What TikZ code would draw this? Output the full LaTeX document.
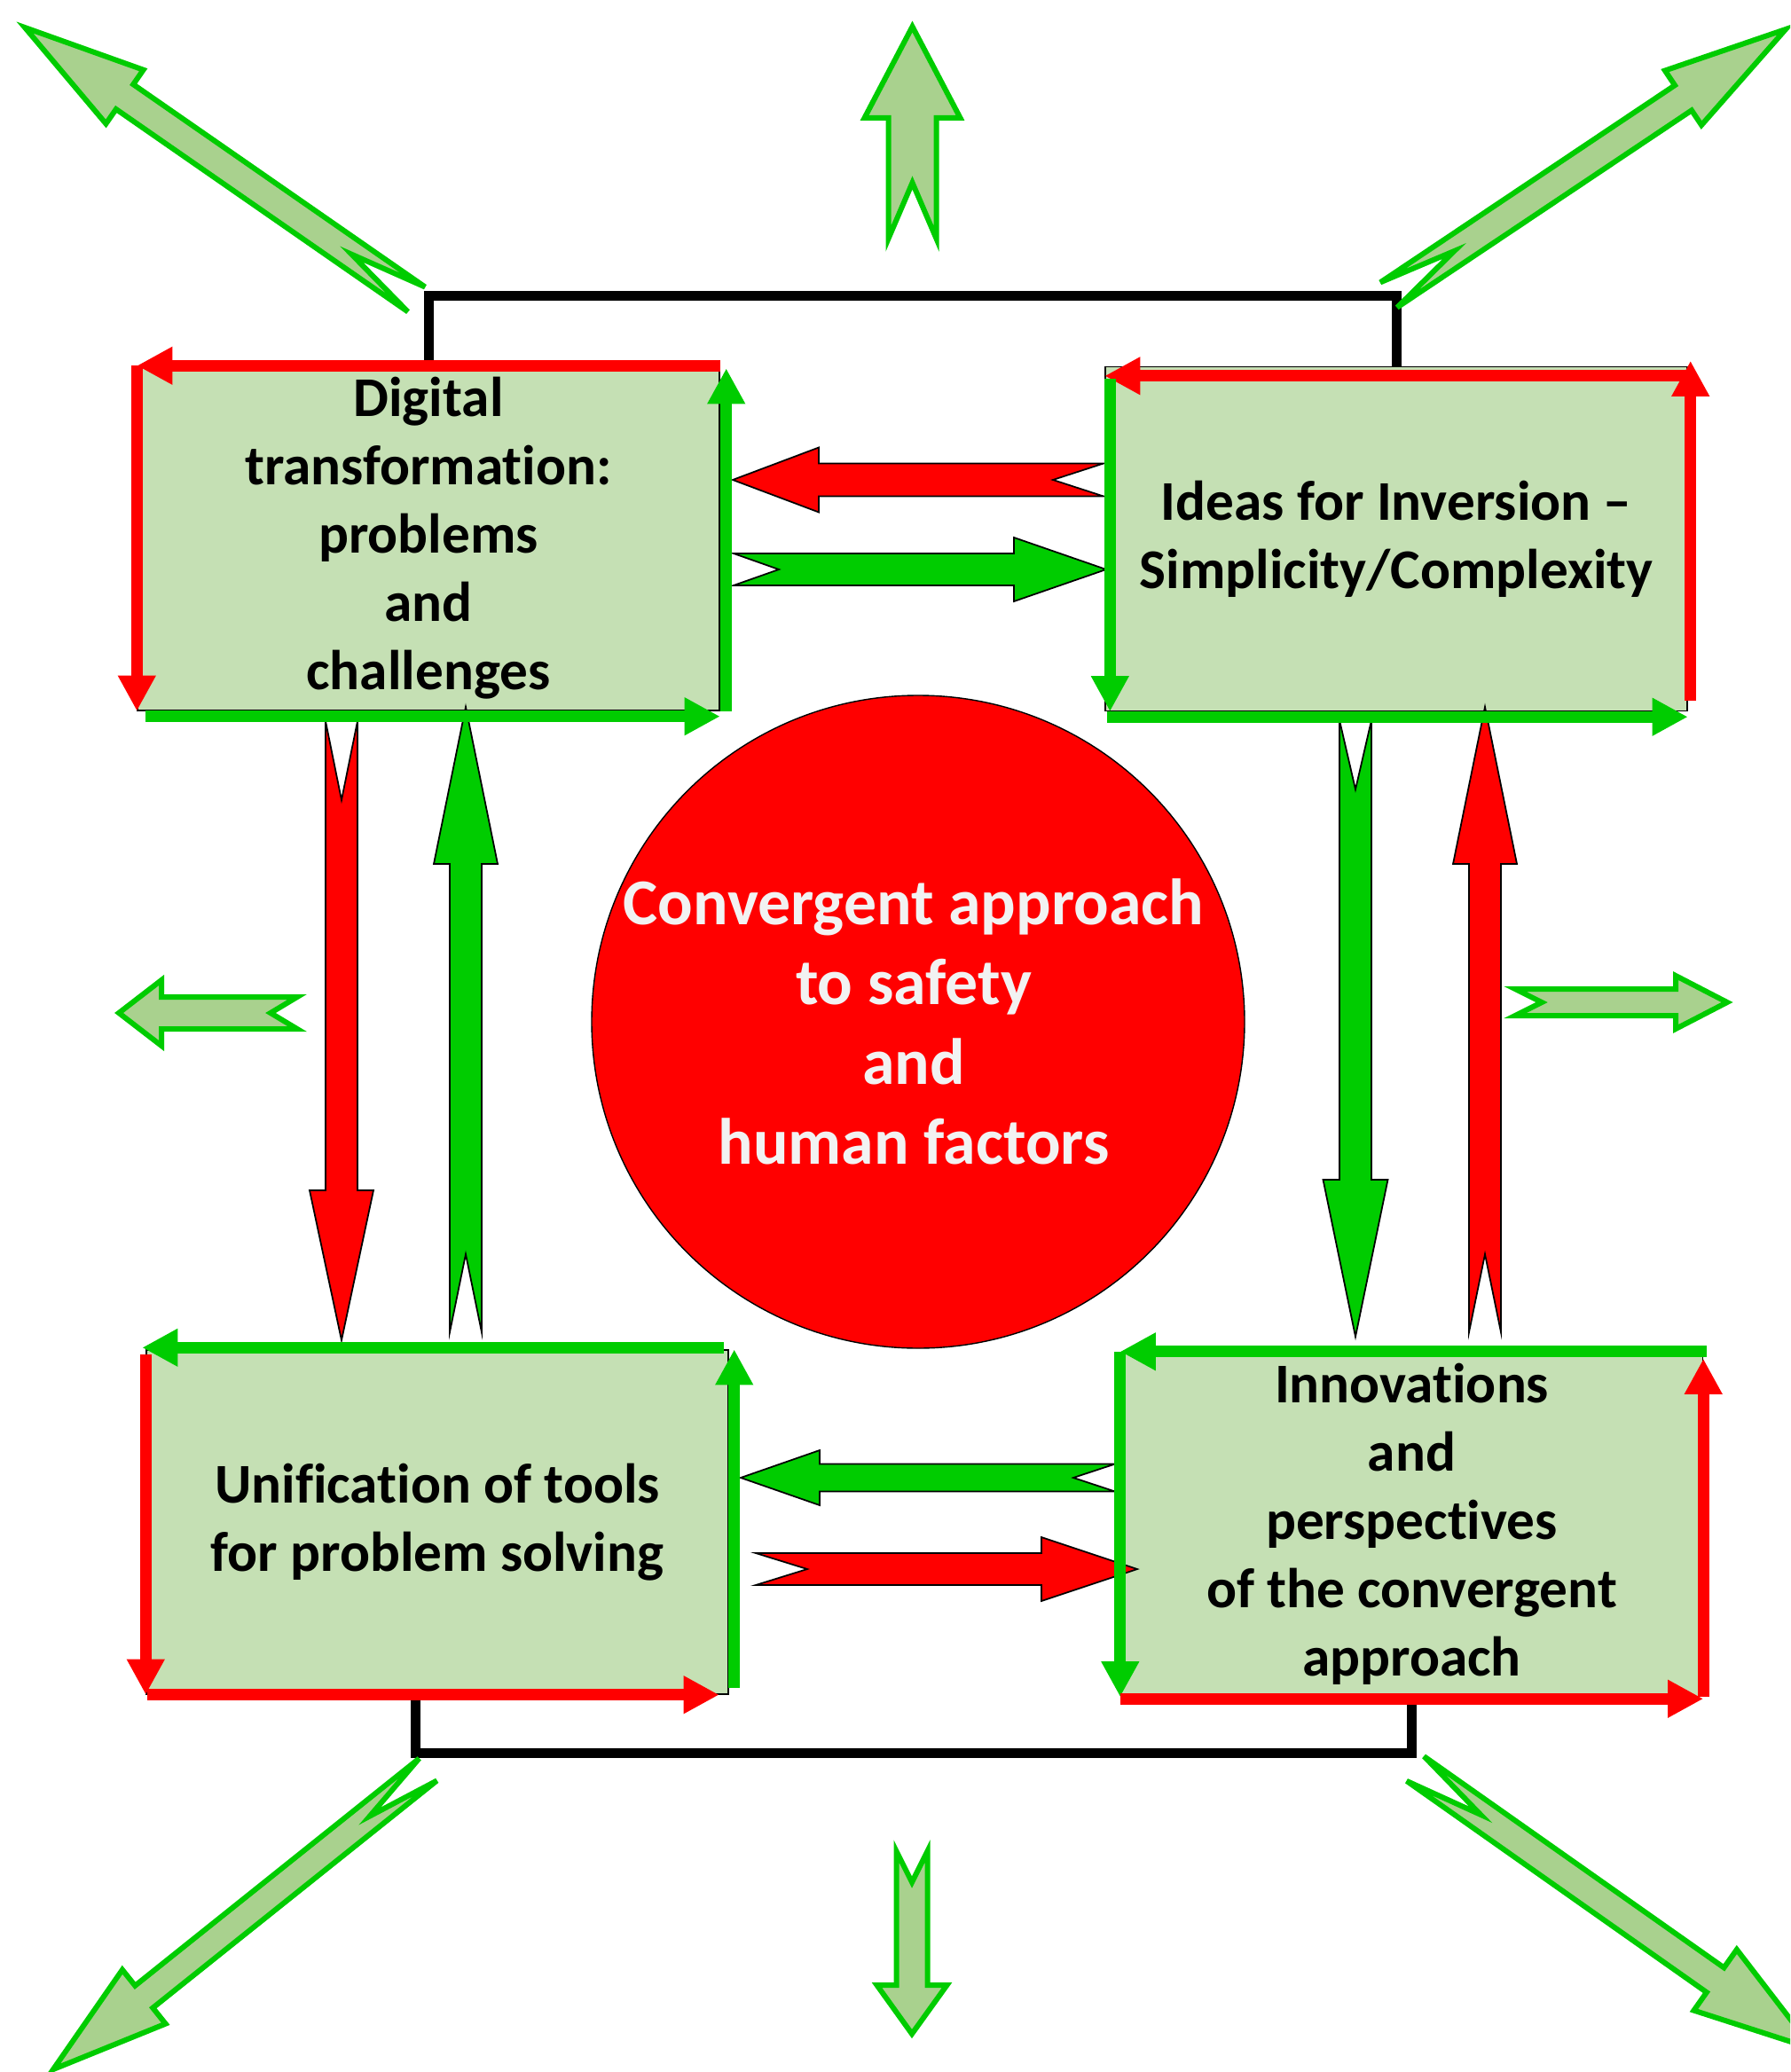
\documentclass[tikz,border=0pt]{standalone}
\usepackage{fontspec}
\setmainfont{Carlito}[Ligatures={TeX,NoCommon}]
\usepackage{tikz}
\usetikzlibrary{arrows.meta,calc}
\definecolor{sred}{HTML}{FF0000}
\definecolor{sgreen}{HTML}{00CC00}
\definecolor{boxgreen}{HTML}{C5E0B4}
\definecolor{outgreen}{HTML}{A9D18E}
\definecolor{ltext}{HTML}{F2F2F2}
\tikzstyle{notion} = [rectangle,
minimum width=6.56cm,
minimum height=3.88cm,
inner sep=0pt,
text centered, align=center,
draw=black,
fill=boxgreen,
font=\fontsize{18}{21.9}\selectfont\bfseries]
\tikzstyle{core} = [circle, minimum size=7.36cm, inner sep=0pt, draw=black, fill=sred]
\tikzstyle{coretext} = [text=ltext, align=center, font=\fontsize{21}{25.6}\selectfont\bfseries]
\tikzstyle{redside} = [draw=sred, line width=0.13cm, -{Triangle[length=0.4cm,width=0.4cm]}]
\tikzstyle{greenside} = [draw=sgreen, line width=0.13cm, -{Triangle[length=0.4cm,width=0.4cm]}]
\tikzstyle{bracket} = [draw=black, line width=0.11cm]
\tikzstyle{redflow} = [fill=sred, draw=black, line width=0.5pt]
\tikzstyle{greenflow} = [fill=sgreen, draw=black, line width=0.5pt]
\tikzstyle{outflow} = [fill=outgreen, draw=sgreen, line width=0.06cm]
% block arrow: [style]{tail}{tip}{half body}{half head}{head length}{notch}
\newcommand{\blockarrow}[7][]{%
  \filldraw[#1] ($(#2)!#4cm!90:(#3)$) -- ($(#3)!#6cm!(#2)!#4cm!90:(#3)$)
    -- ($(#3)!#6cm!(#2)!#5cm!90:(#3)$) -- (#3)
    -- ($(#3)!#6cm!(#2)!#5cm!-90:(#3)$) -- ($(#3)!#6cm!(#2)!#4cm!-90:(#3)$)
    -- ($(#2)!#4cm!-90:(#3)$) -- ($(#2)!#7cm!(#3)$) -- cycle;}

\begin{document}
\begin{tikzpicture}
				\useasboundingbox (0,0) rectangle (20.18,-23.36);
				\clip (0,0) rectangle (20.18,-23.36);

				\node[notion] (tl) at (4.83,-6.07) {Digital\\transformation:\\problems\\and\\challenges};
				\node[notion] (tr) at (15.74,-6.075) {Ideas for Inversion --\\Simplicity/Complexity};
				\node[notion] (bl) at (4.93,-17.16) {Unification of tools\\for problem solving};
				\node[notion] (br) at (15.915,-17.185) {Innovations\\and\\perspectives\\of the convergent\\approach};
				\node[core] (conv) at (10.35,-11.52) {};
				\node[coretext] (conv-t) at ([xshift=-0.05cm]conv.center) {Convergent approach\\to safety\\and\\human factors};

				\draw[bracket] (tl.north) -- ++(0,0.785) -| (tr.north);
				\draw[bracket] ([xshift=-0.25cm]bl.south) -- ++(0,-0.66) -| (br.south);

				\coordinate (tt-s) at (12.44,-5.41);  \coordinate (tt-e) at (8.26,-5.41);
				\coordinate (tb-s) at (8.27,-6.42);   \coordinate (tb-e) at (12.47,-6.42);
				\coordinate (bt-s) at (12.57,-16.66); \coordinate (bt-e) at (8.35,-16.66);
				\coordinate (bb-s) at (8.52,-17.69);  \coordinate (bb-e) at (12.82,-17.69);
				\coordinate (ld-s) at (3.85,-8.13);   \coordinate (ld-e) at (3.85,-15.11);
				\coordinate (lu-s) at (5.25,-15.02);  \coordinate (lu-e) at (5.25,-7.97);
				\coordinate (rd-s) at (15.28,-8.12);  \coordinate (rd-e) at (15.28,-15.07);
				\coordinate (ru-s) at (16.74,-15.02); \coordinate (ru-e) at (16.74,-7.97);

				\blockarrow[redflow]{tt-s}{tt-e}{.185}{.365}{.97}{.57}
				\blockarrow[greenflow]{tb-s}{tb-e}{.18}{.36}{1.04}{.51}
				\blockarrow[greenflow]{bt-s}{bt-e}{.155}{.31}{.89}{.47}
				\blockarrow[redflow]{bb-s}{bb-e}{.18}{.36}{1.08}{.58}
				\blockarrow[redflow]{ld-s}{ld-e}{.18}{.36}{1.69}{.89}
				\blockarrow[greenflow]{lu-s}{lu-e}{.18}{.36}{1.77}{.88}
				\blockarrow[greenflow]{rd-s}{rd-e}{.18}{.365}{1.77}{.78}
				\blockarrow[redflow]{ru-s}{ru-e}{.18}{.36}{1.77}{.88}

				\draw[redside] (tl.north east) -- (tl.north west);
				\draw[redside] (tl.north west) -- (tl.south west);
				\draw[greenside] ([shift={(0.1,-0.06)}]tl.south west) -- ([yshift=-0.06cm]tl.south east);
				\draw[greenside] ([xshift=0.07cm]tl.south east) -- ([shift={(0.07,-0.03)}]tl.north east);

				\draw[redside] ([shift={(0.03,-0.11)}]tr.north east) -- ([yshift=-0.11cm]tr.north west);
				\draw[greenside] ([shift={(0.06,-0.14)}]tr.north west) -- ([xshift=0.06cm]tr.south west);
				\draw[greenside] ([shift={(0.03,-0.06)}]tr.south west) -- ([yshift=-0.06cm]tr.south east);
				\draw[redside] ([shift={(0.03,0.12)}]tr.south east) -- ([shift={(0.03,0.06)}]tr.north east);

				\draw[greenside] ([shift={(-0.06,0.02)}]bl.north east) -- ([shift={(-0.04,0.02)}]bl.north west);
				\draw[redside] ([yshift=-0.06cm]bl.north west) -- (bl.south west);
				\draw[redside] ([xshift=0.02cm]bl.south west) -- ([xshift=-0.11cm]bl.south east);
				\draw[greenside] ([shift={(0.06,0.08)}]bl.south east) -- ([xshift=0.06cm]bl.north east);

				\draw[greenside] ([xshift=0.04cm]br.north east) -- (br.north west);
				\draw[greenside] (br.north west) -- (br.south west);
				\draw[redside] ([yshift=-0.02cm]br.south west) -- ([yshift=-0.02cm]br.south east);
				\draw[redside] (br.south east) -- ([yshift=-0.08cm]br.north east);

				\coordinate (nw-s) at (4.695,-3.375); \coordinate (nw-e) at (0.28,-0.31);
				\coordinate (n-s) at (10.285,-2.69);  \coordinate (n-e) at (10.285,-0.30);
				\coordinate (ne-s) at (15.655,-3.325); \coordinate (ne-e) at (20.13,-0.33);
				\coordinate (w-s) at (3.35,-11.42);   \coordinate (w-e) at (1.34,-11.42);
				\coordinate (e-s) at (17.08,-11.30);  \coordinate (e-e) at (19.47,-11.30);
				\coordinate (sw-s) at (4.825,-19.95); \coordinate (sw-e) at (0.60,-23.33);
				\coordinate (s-s) at (10.28,-20.87);  \coordinate (s-e) at (10.28,-22.93);
				\coordinate (se-s) at (15.955,-19.94); \coordinate (se-e) at (20.44,-23.10);

				\blockarrow[outflow]{nw-s}{nw-e}{.17}{.37}{1.37}{.89}
				\blockarrow[outflow]{n-s}{n-e}{.27}{.54}{1.03}{.63}
				\blockarrow[outflow]{ne-s}{ne-e}{.17}{.37}{1.39}{.89}
				\blockarrow[outflow]{w-s}{w-e}{.18}{.37}{.48}{.30}
				\blockarrow[outflow]{e-s}{e-e}{.15}{.30}{.58}{.30}
				\blockarrow[outflow]{sw-s}{sw-e}{.16}{.39}{1.31}{.84}
				\blockarrow[outflow]{s-s}{s-e}{.175}{.395}{.55}{.35}
				\blockarrow[outflow]{se-s}{se-e}{.17}{.42}{1.35}{.90}
			\end{tikzpicture}
\end{document}
